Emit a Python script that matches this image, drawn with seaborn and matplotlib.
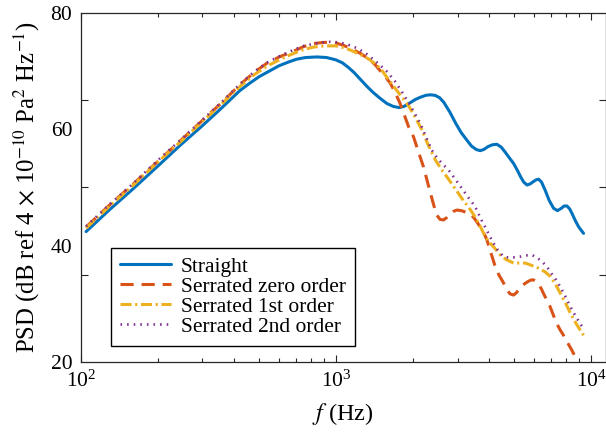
import numpy as np
import pandas as pd
import matplotlib
matplotlib.use("Agg")
import matplotlib.pyplot as plt
import seaborn as sns
from matplotlib.ticker import FixedLocator, LogLocator, NullFormatter

# ---- data ----
straight_f = [105, 130, 160, 200, 245, 300, 350, 420, 460, 500, 550, 600, 650, 700,
              760, 842, 920, 1000, 1060, 1120, 1180, 1245, 1320, 1400, 1490, 1585,
              1680, 1770, 1850, 1950, 2050, 2150, 2250, 2344, 2450, 2550, 2650, 2800,
              2950, 3100, 3250, 3400, 3550, 3680, 3800, 3950, 4100, 4277, 4450, 4600,
              4800, 4974, 5150, 5300, 5450, 5615, 5780, 5950, 6100, 6237, 6400, 6600,
              6850, 7135, 7390, 7650, 7850, 8050, 8250, 8450, 8700, 8950, 9350]
straight_psd = [42.4, 46.2, 49.7, 53.6, 57.2, 60.6, 63.3, 66.6, 67.9, 69.0, 70.0, 70.9,
                71.5, 72.0, 72.3, 72.4, 72.3, 71.9, 71.4, 70.6, 69.7, 68.6, 67.4, 66.3,
                65.3, 64.4, 63.9, 63.7, 63.9, 64.5, 65.1, 65.5, 65.8, 65.9, 65.8, 65.4,
                64.6, 62.9, 61.0, 59.4, 58.2, 57.1, 56.5, 56.3, 56.5, 57.0, 57.3, 57.4,
                56.9, 56.1, 55.0, 54.1, 52.9, 51.8, 50.9, 50.4, 50.6, 51.0, 51.3, 51.4,
                50.9, 49.6, 47.8, 46.4, 46.0, 46.4, 46.8, 46.8, 46.3, 45.4, 44.2, 43.2,
                42.1]

zero_f = [105, 130, 160, 200, 250, 300, 360, 420, 480, 536, 600, 650, 700, 750, 820,
          891, 950, 1000, 1070, 1138, 1250, 1361, 1430, 1500, 1570, 1633, 1700, 1786,
          1860, 1928, 2015, 2100, 2206, 2300, 2400, 2480, 2560, 2643, 2720, 2800,
          2900, 2981, 3100, 3200, 3362, 3500, 3682, 3800, 3908, 4050, 4200, 4350,
          4540, 4680, 4820, 4974, 5100, 5250, 5400, 5520, 5700, 5850, 5960, 6100,
          6250, 6400, 6510, 6700, 6900, 7100, 7345, 7550, 7800, 8100, 8420, 8650]
zero_psd = [43.2, 47.0, 50.5, 54.4, 58.3, 61.5, 64.7, 67.6, 69.8, 71.3, 72.4, 73.0,
            73.6, 74.2, 74.7, 74.9, 74.9, 74.8, 74.4, 73.9, 73.0, 71.9, 71.0, 69.9,
            68.9, 67.9, 66.5, 64.4, 62.3, 60.4, 58.7, 56.3, 53.5, 50.5, 47.5, 45.3,
            44.5, 44.4, 44.8, 45.4, 45.9, 46.1, 46.0, 45.8, 45.5, 44.6, 43.2, 42.2,
            41.0, 38.8, 36.6, 35.0, 33.6, 32.4, 31.7, 31.5, 31.9, 32.6, 33.2, 33.5,
            33.9, 34.1, 34.1, 33.8, 33.3, 32.5, 31.8, 30.7, 29.6, 28.2, 26.6, 25.6,
            24.6, 23.3, 22.0, 21.0]

first_f = [105, 130, 160, 200, 250, 300, 360, 420, 480, 536, 600, 650, 700, 750, 820,
           900, 1000, 1070, 1138, 1250, 1350, 1449, 1520, 1585, 1670, 1750, 1840,
           1928, 2050, 2173, 2300, 2455, 2600, 2725, 2900, 3120, 3375, 3575, 3700,
           3795, 3950, 4150, 4405, 4650, 4974, 5250, 5520, 5850, 6237, 6600, 6925,
           7250, 7585, 7950, 8300, 8800, 9350]
first_psd = [43.0, 46.8, 50.3, 54.3, 58.1, 61.3, 64.5, 67.3, 69.4, 70.8, 71.9, 72.6,
             73.2, 73.7, 74.1, 74.3, 74.3, 74.0, 73.6, 72.8, 72.0, 71.0, 70.0, 68.9,
             67.6, 66.4, 65.2, 64.0, 62.0, 59.9, 57.3, 54.7, 53.0, 51.8, 50.1, 48.1,
             46.1, 44.4, 43.1, 42.1, 40.8, 39.8, 38.4, 37.6, 37.0, 37.0, 37.0, 36.6,
             36.1, 35.5, 34.7, 33.4, 31.8, 30.1, 28.4, 26.4, 24.6]

second_f = [105, 130, 160, 200, 250, 300, 360, 420, 480, 536, 600, 650, 700, 750, 850,
            950, 1030, 1100, 1170, 1245, 1320, 1400, 1490, 1585, 1700, 1841, 1990,
            2142, 2260, 2377, 2500, 2620, 2763, 2950, 3120, 3300, 3515, 3700, 3910,
            4100, 4300, 4540, 4800, 5050, 5280, 5550, 5864, 6150, 6450, 6712, 7000,
            7300, 7585, 7950, 8300, 8750, 9225]
second_psd = [43.3, 47.1, 50.6, 54.6, 58.4, 61.6, 64.8, 67.7, 69.9, 71.4, 72.5, 73.2,
              73.8, 74.3, 74.8, 75.0, 74.9, 74.6, 74.2, 73.6, 72.9, 72.0, 71.0, 69.9,
              68.3, 66.0, 63.5, 61.0, 58.6, 56.4, 55.0, 54.0, 53.0, 51.3, 49.8, 48.3,
              46.7, 44.6, 42.6, 40.8, 39.3, 38.1, 37.9, 38.0, 38.1, 38.3, 38.4, 37.9,
              37.2, 36.4, 35.2, 34.1, 32.9, 31.2, 29.5, 27.7, 26.1]

labels = ["Straight", "Serrated zero order", "Serrated 1st order", "Serrated 2nd order"]
y_ticks = [20, 40, 60, 80]
x_ticks = [1e2, 1e3, 1e4]

# ---- style ----
sns.set_theme(style="white")
plt.rcParams['font.family'] = ['Liberation Serif', 'DejaVu Serif']
plt.rcParams['mathtext.fontset'] = 'stix'
for k in ['text.color', 'axes.labelcolor', 'xtick.color', 'ytick.color']:
    plt.rcParams[k] = 'black'

fig = plt.figure(figsize=(6.06, 4.32), dpi=100)
ax = fig.add_axes([80.7 / 606, (432 - 362) / 432, (605.5 - 80.7) / 606, 349.3 / 432])

series = [
    (straight_f, straight_psd, '#0072BD', '-', 2.2),
    (zero_f, zero_psd, '#D95319', (0, (4.3, 2.6)), 2.2),
    (first_f, first_psd, '#EDB120', (0, (3.6, 1.2, 0.7, 1.2)), 2.2),
    (second_f, second_psd, '#7E2F8E', (0, (0.6, 1.9)), 1.9),
]
for (f, p, c, ls, lw), lab in zip(series, labels):
    df = pd.DataFrame({"f": f, "psd": p})
    sns.lineplot(data=df, x="f", y="psd", ax=ax, color=c, linestyle=ls,
                 linewidth=lw, label=lab, estimator=None, sort=True)
for ln in ax.get_lines():
    ln.set_solid_joinstyle('round')
    ln.set_dash_joinstyle('round')

ax.set_xscale('log')
ax.set_xlim(100, 11400)
ax.set_ylim(20, 80)

ax.xaxis.set_major_locator(FixedLocator(x_ticks))
ax.xaxis.set_minor_locator(LogLocator(base=10, subs=np.arange(2, 10), numticks=20))
ax.xaxis.set_minor_formatter(NullFormatter())
ax.yaxis.set_major_locator(FixedLocator(y_ticks))
ax.yaxis.set_minor_locator(FixedLocator([35, 50, 65]))

ax.tick_params(which='both', direction='in', top=True, right=True, bottom=True, left=True,
               labelsize=15.5, width=0.8, color='#262626')
ax.tick_params(axis='x', which='major', length=5, pad=6)
ax.tick_params(axis='x', which='minor', length=3)
ax.tick_params(axis='y', which='major', length=0, pad=6)
ax.tick_params(axis='y', which='minor', length=5)

for s in ax.spines.values():
    s.set_color('#262626')
    s.set_linewidth(0.9)

ax.set_xlabel(r"$f$ (Hz)", fontsize=17.5, labelpad=7)
ax.set_ylabel(r"PSD (dB ref 4 $\times$ 10$^{-10}$ Pa$^{2}$ Hz$^{-1}$)", fontsize=17.8, labelpad=6)

leg = ax.legend(loc='upper left', bbox_to_anchor=((111 - 80.7) / 524.8, (362 - 248) / 349.3),
                borderaxespad=0, frameon=True, fancybox=False, edgecolor='black',
                framealpha=1, fontsize=15.5, handlelength=2.4, handletextpad=0.45,
                labelspacing=0.0, borderpad=0.4)
leg.get_frame().set_linewidth(1.0)

fig.savefig("out.png", dpi=100)
